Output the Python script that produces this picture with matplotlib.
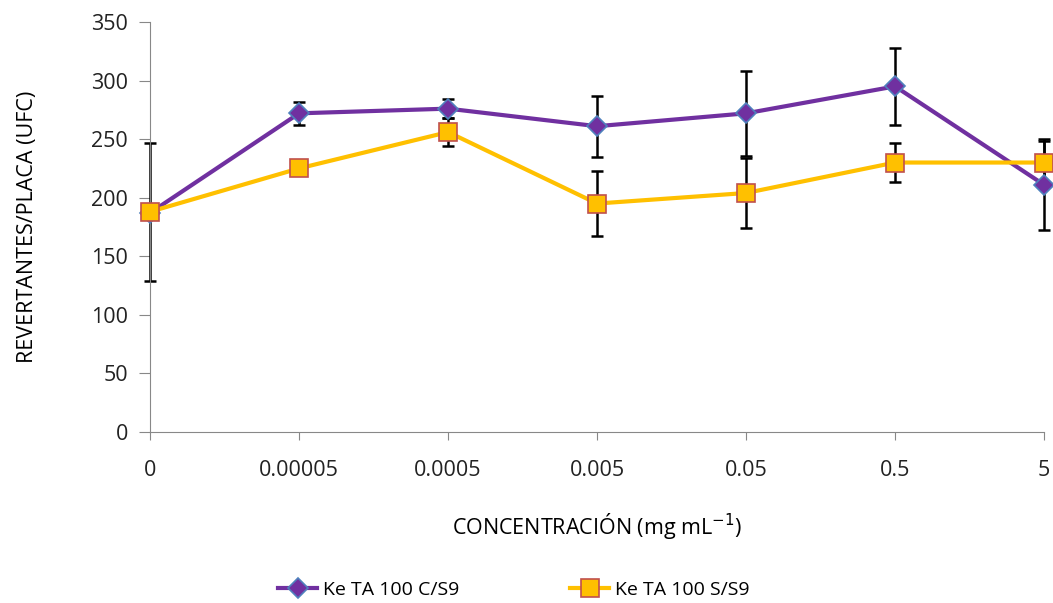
import matplotlib
matplotlib.use("Agg")
import numpy as np
import matplotlib.pyplot as plt

plt.rcParams['font.family'] = ['Open Sans', 'DejaVu Sans']

concentrations = ['0', '0.00005', '0.0005', '0.005', '0.05', '0.5', '5']
c_s9 = [187, 272, 276, 261, 272, 295, 211]
c_s9_err = [0, 10, 8, 26, 36, 33, 39]
s_s9 = [188, 225, 256, 195, 204, 230, 230]
s_s9_err = [59, 0, 12, 28, 30, 17, 18]

fig = plt.figure(figsize=(10.53, 6.03), dpi=100)
ax = fig.add_axes([0.1425, 0.2836, 0.849, 0.68])

x = np.arange(len(concentrations))
ax.errorbar(x, c_s9, yerr=c_s9_err, fmt='none', ecolor='black', elinewidth=1.8,
            capsize=4, capthick=1.8, zorder=2)
ax.errorbar(x, s_s9, yerr=s_s9_err, fmt='none', ecolor='black', elinewidth=1.8,
            capsize=4, capthick=1.8, zorder=2)
ax.plot(x, c_s9, color='#7030A0', lw=3, marker='D', ms=10, mfc='#7030A0',
        mec='#4F81BD', mew=1.2, label='Ke TA 100 C/S9', zorder=3)
ax.plot(x, s_s9, color='#FFC000', lw=3, marker='s', ms=13, mfc='#FFC000',
        mec='#C0504D', mew=1.2, label='Ke TA 100 S/S9', zorder=4)

ax.set_xlim(0, 6)
ax.set_ylim(0, 350)
ax.set_yticks(range(0, 351, 50))
ax.set_xticks(x)
ax.set_xticklabels(concentrations)
ax.tick_params(axis='both', labelsize=15.5, colors='#222222')
ax.tick_params(axis='y', length=8, color='#888888', pad=8)
ax.tick_params(axis='x', length=6, color='#888888', pad=14)
for s in ['top', 'right']:
    ax.spines[s].set_visible(False)
ax.spines['left'].set_color('#888888')
ax.spines['bottom'].set_color('#888888')
for a in ax.lines + ax.collections:
    a.set_clip_on(False)

ax.set_ylabel('REVERTANTES/PLACA (UFC)', fontsize=15.5, labelpad=14)
ax.set_xlabel('CONCENTRACIÓN (mg mL$^{-1}$)', fontsize=15.5, labelpad=22)
ax.yaxis.set_label_coords(-0.125, 0.5)

fig.legend(loc='lower center', bbox_to_anchor=(0.488, -0.022), ncol=2, frameon=False,
           fontsize=14, columnspacing=5.7, handlelength=2.0, handletextpad=0.3)

fig.savefig('out.png', dpi=100)
